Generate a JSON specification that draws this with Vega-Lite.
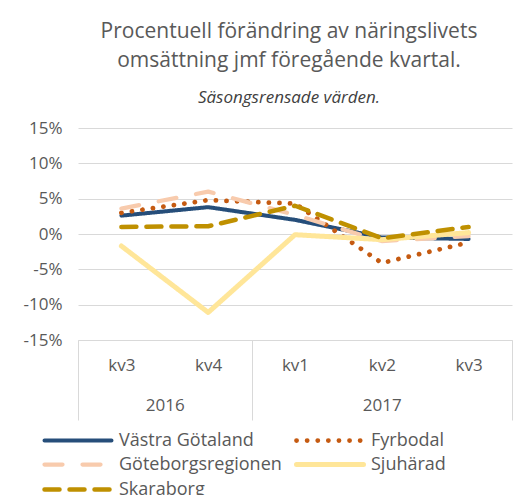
{
  "$schema": "https://vega.github.io/schema/vega-lite/v6.json",
  "autosize": "none",
  "width": 434,
  "height": 212,
  "padding": {"left": 78, "top": 128, "right": 20, "bottom": 155},
  "background": "white",
  "config": {
    "font": "Open Sans",
    "view": {"stroke": null},
    "axis": {"labelColor": "#595959", "labelFont": "Open Sans", "labelFontSize": 17, "domainColor": "#D9D9D9", "tickColor": "#D9D9D9", "gridColor": "#D9D9D9"}
  },
  "title": {
    "text": ["Procentuell förändring av näringslivets", "omsättning jmf föregående kvartal."],
    "subtitle": "Säsongsrensade värden.",
    "anchor": "middle",
    "dx": -6,
    "font": "Open Sans",
    "fontSize": 21,
    "fontWeight": "normal",
    "color": "#595959",
    "lineHeight": 29,
    "subtitleFont": "Open Sans",
    "subtitleFontSize": 17,
    "subtitleFontStyle": "italic",
    "subtitleColor": "#404040",
    "subtitlePadding": 19,
    "offset": 13
  },
  "data": {"values": [
    {"t": 0.5, "v": 2.6, "s": "Västra Götaland"},
    {"t": 1.5, "v": 3.8, "s": "Västra Götaland"},
    {"t": 2.5, "v": 2.0, "s": "Västra Götaland"},
    {"t": 3.5, "v": -0.5, "s": "Västra Götaland"},
    {"t": 4.5, "v": -0.7, "s": "Västra Götaland"},
    {"t": 0.5, "v": 3.0, "s": "Fyrbodal"},
    {"t": 1.5, "v": 4.8, "s": "Fyrbodal"},
    {"t": 2.5, "v": 4.3, "s": "Fyrbodal"},
    {"t": 3.5, "v": -4.1, "s": "Fyrbodal"},
    {"t": 4.5, "v": -1.2, "s": "Fyrbodal"},
    {"t": 0.5, "v": 3.6, "s": "Göteborgsregionen"},
    {"t": 1.5, "v": 6.0, "s": "Göteborgsregionen"},
    {"t": 2.5, "v": 2.7, "s": "Göteborgsregionen"},
    {"t": 3.5, "v": -1.0, "s": "Göteborgsregionen"},
    {"t": 4.5, "v": -0.3, "s": "Göteborgsregionen"},
    {"t": 0.5, "v": -1.7, "s": "Sjuhärad"},
    {"t": 1.5, "v": -11.1, "s": "Sjuhärad"},
    {"t": 2.5, "v": -0.1, "s": "Sjuhärad"},
    {"t": 3.5, "v": -0.8, "s": "Sjuhärad"},
    {"t": 4.5, "v": 0.2, "s": "Sjuhärad"},
    {"t": 0.5, "v": 1.0, "s": "Skaraborg"},
    {"t": 1.5, "v": 1.1, "s": "Skaraborg"},
    {"t": 2.5, "v": 4.0, "s": "Skaraborg"},
    {"t": 3.5, "v": -0.6, "s": "Skaraborg"},
    {"t": 4.5, "v": 1.0, "s": "Skaraborg"}
  ]},
  "layer": [
    {
      "mark": {"type": "point", "opacity": 0},
      "encoding": {
        "x": {"field": "t", "type": "quantitative", "scale": {"domain": [0, 5], "nice": false, "zero": false},
          "axis": {"orient": "bottom", "title": null, "values": [0, 1, 2, 3.5, 5], "labelExpr": "datum.value == 1 ? '2016' : datum.value == 3.5 ? '2017' : ''", "tickSize": 80, "tickOpacity": {"condition": {"test": "datum.value == 1 || datum.value == 3.5", "value": 0}, "value": 1}, "labelPadding": -23, "domain": true, "grid": false, "labelFlush": false, "labelOverlap": false}},
        "y": {"field": "v", "type": "quantitative", "scale": {"domain": [-15, 15], "nice": false},
          "axis": {"title": null, "values": [-15, -10, -5, 0, 5, 10, 15], "labelExpr": "datum.value + '%'", "domain": false, "ticks": false, "labelPadding": 16, "grid": true, "labelOverlap": false}}
      }
    },
    {
      "mark": {"type": "line", "strokeCap": "round", "strokeJoin": "round"},
      "encoding": {
        "x": {"field": "t", "type": "quantitative",
          "axis": {"orient": "bottom", "title": null, "values": [0.5, 1.5, 2.5, 3.5, 4.5], "labelExpr": "['kv3','kv4','kv1','kv2','kv3'][floor(datum.value)]", "ticks": false, "domain": false, "grid": false, "labelPadding": 17, "labelFlush": false, "labelOverlap": false}},
        "y": {"field": "v", "type": "quantitative",
          "axis": {"title": null, "values": [-15, -10, -5, 0, 5, 10, 15], "labelExpr": "datum.value + '%'", "domain": false, "ticks": false, "labelPadding": 16, "grid": true, "labelOverlap": false}},
        "color": {"field": "s", "type": "nominal",
          "scale": {"domain": ["Västra Götaland", "Göteborgsregionen", "Skaraborg", "Fyrbodal", "Sjuhärad"], "range": ["#264E7A", "#F8CBAD", "#BF9000", "#C55A11", "#FFE699"]},
          "legend": {"title": null, "orient": "none", "legendX": -36, "legendY": 300, "columns": 2, "symbolType": "M-1,0H5.7", "symbolSize": 400, "labelFontSize": 18, "labelLimit": 300, "labelColor": "#595959", "labelFont": "Open Sans", "columnPadding": 4, "rowPadding": 2, "labelOffset": 52,
            "encode": {"symbols": {"update": {"strokeCap": {"value": "round"}}}}}},
        "strokeDash": {"field": "s", "type": "nominal",
          "scale": {"domain": ["Västra Götaland", "Göteborgsregionen", "Skaraborg", "Fyrbodal", "Sjuhärad"], "range": [[1, 0], [18, 20], [15, 10], [0.1, 10.5], [1, 0]]}},
        "strokeWidth": {"field": "s", "type": "nominal",
          "scale": {"domain": ["Västra Götaland", "Göteborgsregionen", "Skaraborg", "Fyrbodal", "Sjuhärad"], "range": [4, 5, 4.5, 4, 3.5]}},
        "order": {"field": "t"}
      }
    }
  ],
  "resolve": {"axis": {"x": "independent"}}
}
